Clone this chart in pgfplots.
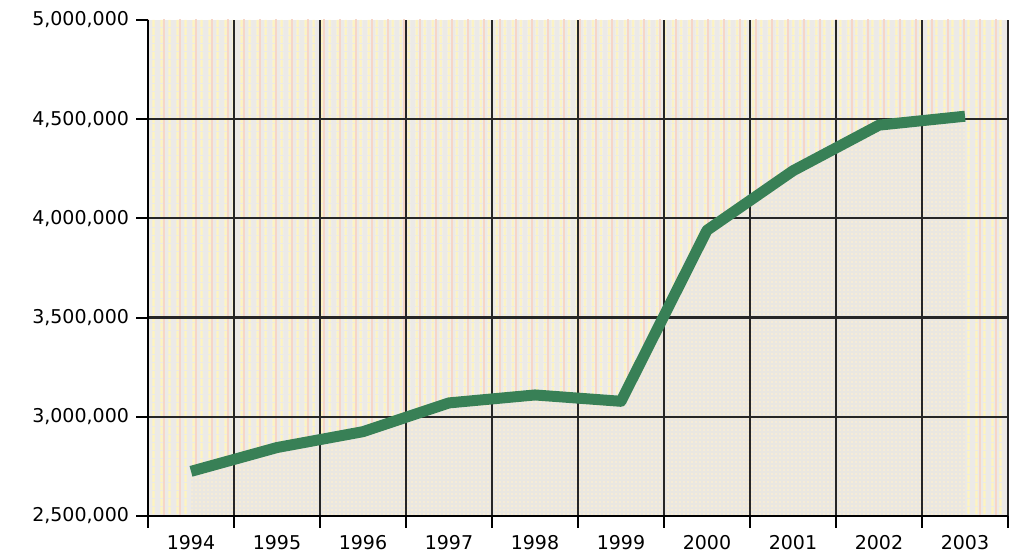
\documentclass[border=0pt]{standalone}
\usepackage{fontspec}
\setmainfont{DejaVu Sans}
\usepackage{pgfplots}
\pgfplotsset{compat=1.18}
\usetikzlibrary{patterns.meta}

\definecolor{lineGreen}{RGB}{56,128,86}
\definecolor{bgGrey}{RGB}{236,234,231}
\definecolor{stripeYel}{RGB}{255,245,190}
\definecolor{stripePink}{RGB}{246,214,200}
\definecolor{areaGrey}{RGB}{234,231,225}
\definecolor{dotPink}{RGB}{250,238,212}

\pgfplotstableread{
year value
1994 2725000
1995 2845000
1996 2925000
1997 3070000
1998 3110000
1999 3078000
2000 3940000
2001 4240000
2002 4470000
2003 4515000
}\visitors

\begin{document}
\begin{tikzpicture}
\begin{axis}[
    set layers,
    scale only axis,
    width=430pt, height=248pt,
    xmin=1993.5, xmax=2003.5,
    ymin=2500000, ymax=5000000,
    axis lines*=left,
    axis line style={black, line width=1pt},
    xtick={1993.5,1994.5,...,2003.5},
    x tick label as interval,
    xticklabels={1994,1995,1996,1997,1998,1999,2000,2001,2002,2003},
    ytick={2500000,3000000,3500000,4000000,4500000},
    extra y ticks={5000000},
    extra y tick style={grid=none},
    scaled y ticks=false,
    yticklabel style={/pgf/number format/.cd, fixed, precision=0, 1000 sep={,}},
    /pgf/number format/assume math mode=true,
    ticklabel style={font=\fontsize{9.5}{11}\selectfont},
    tick align=outside,
    tick pos=left,
    major tick length=6pt,
    tick style={black, line width=1pt},
    grid=major,
    major grid style={black!85, line width=1.1pt},
]
% background with vertical stripes
\addplot[draw=none, fill=bgGrey, on layer=axis background,
    postaction={pattern={Lines[angle=90,distance=4pt,line width=1.3pt]}, pattern color=stripeYel},
    postaction={pattern={Lines[angle=90,distance=8pt,xshift=2pt,line width=0.9pt]}, pattern color=stripePink}]
    coordinates {(1993.5,2500000) (2003.5,2500000) (2003.5,5000000) (1993.5,5000000)} -- cycle;
% stippled area under the line
\addplot[draw=none, fill=areaGrey, on layer=axis background,
    postaction={pattern={Dots[distance=2pt,radius=0.6pt]}, pattern color=dotPink}]
    table[x=year, y=value] {\visitors} \closedcycle;
% the line itself
\addplot[lineGreen, line width=5.5pt, line join=round] table[x=year, y=value] {\visitors};
\end{axis}
\pgfresetboundingbox
\path ([xshift=-74pt,yshift=-21pt]current axis.south west)
  rectangle ([xshift=1.5pt,yshift=10pt]current axis.north east);
\end{tikzpicture}
\end{document}
